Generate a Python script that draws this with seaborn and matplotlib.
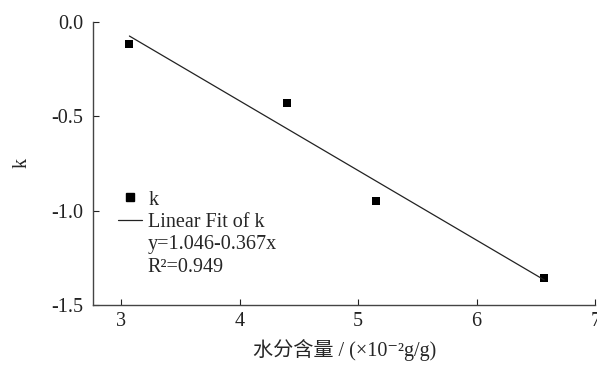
import numpy as np
import pandas as pd
import matplotlib
matplotlib.use("Agg")
import matplotlib.pyplot as plt
import seaborn as sns
from matplotlib.lines import Line2D

# moisture content (x10^-2 g/g) and k values
moisture = [3.07, 4.40, 5.15, 6.57]
k_values = [-0.117, -0.43, -0.949, -1.357]
fit_text = ["y=1.046-0.367x", "R\u00b2=0.949"]
x_ticks = [3, 4, 5, 6, 7]
y_ticks = [0.0, -0.5, -1.0, -1.5]

df = pd.DataFrame({"moisture": moisture, "k": k_values})

sns.set_style("ticks")
plt.rcParams["font.family"] = ["Liberation Serif", "Noto Sans CJK SC", "DejaVu Serif"]

fig = plt.figure(figsize=(5.97, 3.70), dpi=100)
ax = fig.add_axes([0.156, 0.176, 0.841, 0.765])

# fitted line over the data range
sns.regplot(data=df, x="moisture", y="k", ax=ax, scatter=False, ci=None,
            truncate=True, line_kws={"color": "#222222", "linewidth": 0.9})
sns.scatterplot(data=df, x="moisture", y="k", ax=ax, marker="s", s=34,
                color="black", edgecolor="none")

ax.set_xlim(2.764, 7.0)
ax.set_ylim(-1.5, 0.0)
ax.set_xticks(x_ticks)
ax.set_yticks(y_ticks)
ax.set_yticklabels([f"{v:.1f}" for v in y_ticks])
ax.tick_params(direction="in", length=4, width=0.8, labelsize=14.5, colors="#222222")
ax.tick_params(axis="y", pad=7)
ax.tick_params(axis="x", pad=5)
sns.despine(ax=ax)
for s in ["left", "bottom"]:
    ax.spines[s].set_linewidth(1.0)
    ax.spines[s].set_color("#444444")

ax.set_xlabel("水分含量 / (×10\u207b\u00b2g/g)", fontsize=14.5, labelpad=6)
ax.set_ylabel("k", fontsize=14.5, labelpad=14)

handles = [
    Line2D([], [], marker="s", linestyle="none", color="black", markersize=5.5),
    Line2D([], [], color="#222222", linewidth=0.9),
]
ax.legend(handles, ["k", "Linear Fit of k"], loc="upper left",
          bbox_to_anchor=(0.03, 0.44), frameon=False, fontsize=14.5,
          handlelength=1.2, handletextpad=0.3, labelspacing=0.15,
          borderpad=0)
ax.text(0.108, 0.212, fit_text[0], transform=ax.transAxes, fontsize=14.5,
        va="center", ha="left")
ax.text(0.108, 0.131, fit_text[1], transform=ax.transAxes, fontsize=14.5,
        va="center", ha="left")

fig.savefig("out.png", dpi=100)
